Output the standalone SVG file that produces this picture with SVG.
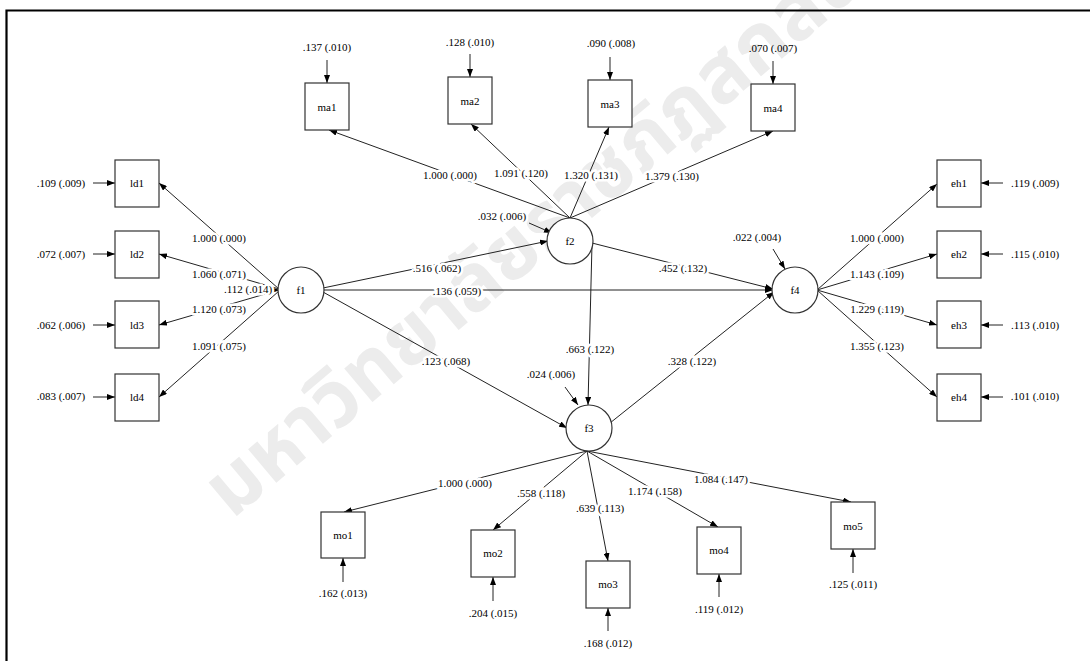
<svg xmlns="http://www.w3.org/2000/svg" width="1090" height="661" viewBox="0 0 1090 661">
<style>
  text { font-family: "Liberation Serif", "Times New Roman", Times, serif; font-size: 11px; fill: #000; }
  .lbl { text-anchor: middle; }
  .hal { text-anchor: middle; stroke: #fff; stroke-width: 5px; paint-order: stroke; stroke-linejoin: round; }
  .box { fill: #fff; stroke: #333; stroke-width: 1.2; }
  .lat { fill: #fff; stroke: #333; stroke-width: 1.2; }
  .ln { stroke: #222; stroke-width: 1; fill: none; marker-end: url(#ah); }
  .wm { font-family: "Noto Sans Thai", "Noto Sans", "DejaVu Sans", sans-serif; font-size: 80px; font-weight: bold; fill: #ececec; }
</style>
<defs>
  <marker id="ah" markerUnits="userSpaceOnUse" markerWidth="8" markerHeight="6" refX="8" refY="3" orient="auto">
    <path d="M0,0 L8,3 L0,6 z" fill="#000"/>
  </marker>
</defs>
<rect x="0" y="0" width="1090" height="661" fill="#fff"/>
<g id="watermark">
  <text class="wm" x="232" y="520" transform="rotate(-40 232 520)">มหาวิทยาลัยราชภัฏสกลนคร</text>
</g>
<g id="frame" stroke="#000" stroke-width="2.2" fill="none">
  <path d="M1090,10.5 H6.5 V661"/>
</g>
<g id="connectors">
  <line class="ln" x1="279" y1="289" x2="159" y2="183"/>
  <line class="ln" x1="279" y1="289" x2="159" y2="254"/>
  <line class="ln" x1="279" y1="290" x2="159" y2="325"/>
  <line class="ln" x1="279" y1="291" x2="159" y2="397"/>
  <line class="ln" x1="570" y1="218" x2="329" y2="130"/>
  <line class="ln" x1="570" y1="218" x2="471" y2="124"/>
  <line class="ln" x1="570" y1="218" x2="609" y2="127"/>
  <line class="ln" x1="570" y1="218" x2="773" y2="131"/>
  <line class="ln" x1="817" y1="290" x2="937" y2="184"/>
  <line class="ln" x1="817" y1="290" x2="937" y2="254"/>
  <line class="ln" x1="817" y1="290" x2="937" y2="325"/>
  <line class="ln" x1="817" y1="290" x2="937" y2="397"/>
  <line class="ln" x1="587" y1="451" x2="344" y2="512"/>
  <line class="ln" x1="587" y1="451" x2="493" y2="530"/>
  <line class="ln" x1="587" y1="451" x2="608" y2="561"/>
  <line class="ln" x1="587" y1="451" x2="718" y2="527"/>
  <line class="ln" x1="587" y1="451" x2="851" y2="502"/>
  <line class="ln" x1="323" y1="288" x2="548" y2="241"/>
  <line class="ln" x1="323" y1="290" x2="773" y2="290"/>
  <line class="ln" x1="323" y1="292" x2="567" y2="428"/>
  <line class="ln" x1="592" y1="243" x2="773" y2="289"/>
  <line class="ln" x1="592" y1="244" x2="588" y2="405"/>
  <line class="ln" x1="610" y1="423" x2="774" y2="292"/>
  <line class="ln" x1="272" y1="290" x2="279" y2="290"/>
  <line class="ln" x1="529" y1="223" x2="552" y2="233"/>
  <line class="ln" x1="565" y1="387" x2="578" y2="405"/>
  <line class="ln" x1="773" y1="249" x2="785" y2="269"/>
  <line class="ln" x1="327" y1="60" x2="327" y2="83"/>
  <line class="ln" x1="470" y1="54" x2="470" y2="77"/>
  <line class="ln" x1="610" y1="57" x2="610" y2="80"/>
  <line class="ln" x1="773" y1="61" x2="773" y2="84"/>
  <line class="ln" x1="93" y1="183" x2="115" y2="183"/>
  <line class="ln" x1="93" y1="254" x2="115" y2="254"/>
  <line class="ln" x1="93" y1="325" x2="115" y2="325"/>
  <line class="ln" x1="93" y1="397" x2="115" y2="397"/>
  <line class="ln" x1="1003" y1="183" x2="981" y2="183"/>
  <line class="ln" x1="1003" y1="254" x2="981" y2="254"/>
  <line class="ln" x1="1003" y1="325" x2="981" y2="325"/>
  <line class="ln" x1="1003" y1="397" x2="981" y2="397"/>
  <line class="ln" x1="343" y1="582" x2="343" y2="558"/>
  <line class="ln" x1="493" y1="601" x2="493" y2="577"/>
  <line class="ln" x1="608" y1="631" x2="608" y2="608"/>
  <line class="ln" x1="719" y1="597" x2="719" y2="574"/>
  <line class="ln" x1="853" y1="573" x2="853" y2="549"/>
</g>
<g id="path-labels">
  <text class="hal" x="219" y="242">1.000 (.000)</text>
  <text class="hal" x="219" y="278">1.060 (.071)</text>
  <text class="hal" x="219" y="313">1.120 (.073)</text>
  <text class="hal" x="219" y="350">1.091 (.075)</text>
  <text class="hal" x="248" y="293">.112 (.014)</text>
  <text class="hal" x="450" y="179">1.000 (.000)</text>
  <text class="hal" x="521" y="177">1.091 (.120)</text>
  <text class="hal" x="591" y="179">1.320 (.131)</text>
  <text class="hal" x="672" y="180">1.379 (.130)</text>
  <text class="hal" x="502" y="220">.032 (.006)</text>
  <text class="hal" x="437" y="272">.516 (.062)</text>
  <text class="hal" x="457" y="295">.136 (.059)</text>
  <text class="hal" x="446" y="365">.123 (.068)</text>
  <text class="hal" x="683" y="272">.452 (.132)</text>
  <text class="hal" x="590" y="353">.663 (.122)</text>
  <text class="hal" x="692" y="365">.328 (.122)</text>
  <text class="hal" x="551" y="378">.024 (.006)</text>
  <text class="hal" x="757" y="241">.022 (.004)</text>
  <text class="hal" x="877" y="242">1.000 (.000)</text>
  <text class="hal" x="877" y="278">1.143 (.109)</text>
  <text class="hal" x="877" y="313">1.229 (.119)</text>
  <text class="hal" x="877" y="350">1.355 (.123)</text>
  <text class="hal" x="465" y="487">1.000 (.000)</text>
  <text class="hal" x="541" y="497">.558 (.118)</text>
  <text class="hal" x="600" y="512">.639 (.113)</text>
  <text class="hal" x="655" y="495">1.174 (.158)</text>
  <text class="hal" x="721" y="483">1.084 (.147)</text>
</g>
<g id="error-labels">
  <text class="lbl" x="327" y="51">.137 (.010)</text>
  <text class="lbl" x="470" y="46">.128 (.010)</text>
  <text class="lbl" x="611" y="47">.090 (.008)</text>
  <text class="lbl" x="773" y="52">.070 (.007)</text>
  <text class="lbl" x="61" y="187">.109 (.009)</text>
  <text class="lbl" x="61" y="258">.072 (.007)</text>
  <text class="lbl" x="61" y="329">.062 (.006)</text>
  <text class="lbl" x="61" y="400">.083 (.007)</text>
  <text class="lbl" x="1035" y="187">.119 (.009)</text>
  <text class="lbl" x="1035" y="258">.115 (.010)</text>
  <text class="lbl" x="1035" y="329">.113 (.010)</text>
  <text class="lbl" x="1035" y="400">.101 (.010)</text>
  <text class="lbl" x="343" y="597">.162 (.013)</text>
  <text class="lbl" x="493" y="617">.204 (.015)</text>
  <text class="lbl" x="608" y="647">.168 (.012)</text>
  <text class="lbl" x="719" y="613">.119 (.012)</text>
  <text class="lbl" x="853" y="588">.125 (.011)</text>
</g>
<g id="ma1"><rect class="box" x="305" y="83" width="44" height="47"/><text class="lbl" x="327" y="111">ma1</text></g>
<g id="ma2"><rect class="box" x="448" y="77" width="44" height="47"/><text class="lbl" x="470" y="105">ma2</text></g>
<g id="ma3"><rect class="box" x="588" y="80" width="44" height="47"/><text class="lbl" x="610" y="108">ma3</text></g>
<g id="ma4"><rect class="box" x="751" y="84" width="44" height="47"/><text class="lbl" x="773" y="112">ma4</text></g>
<g id="ld1"><rect class="box" x="115" y="160" width="44" height="47"/><text class="lbl" x="137" y="187">ld1</text></g>
<g id="ld2"><rect class="box" x="115" y="231" width="44" height="47"/><text class="lbl" x="137" y="258">ld2</text></g>
<g id="ld3"><rect class="box" x="115" y="301" width="44" height="47"/><text class="lbl" x="137" y="329">ld3</text></g>
<g id="ld4"><rect class="box" x="115" y="374" width="44" height="47"/><text class="lbl" x="137" y="401">ld4</text></g>
<g id="eh1"><rect class="box" x="937" y="160" width="44" height="47"/><text class="lbl" x="959" y="187">eh1</text></g>
<g id="eh2"><rect class="box" x="937" y="231" width="44" height="47"/><text class="lbl" x="959" y="258">eh2</text></g>
<g id="eh3"><rect class="box" x="937" y="301" width="44" height="47"/><text class="lbl" x="959" y="329">eh3</text></g>
<g id="eh4"><rect class="box" x="937" y="374" width="44" height="47"/><text class="lbl" x="959" y="401">eh4</text></g>
<g id="mo1"><rect class="box" x="321" y="512" width="44" height="46"/><text class="lbl" x="343" y="539">mo1</text></g>
<g id="mo2"><rect class="box" x="471" y="530" width="44" height="47"/><text class="lbl" x="493" y="557">mo2</text></g>
<g id="mo3"><rect class="box" x="586" y="561" width="44" height="47"/><text class="lbl" x="608" y="588">mo3</text></g>
<g id="mo4"><rect class="box" x="697" y="527" width="44" height="47"/><text class="lbl" x="719" y="554">mo4</text></g>
<g id="mo5"><rect class="box" x="831" y="502" width="44" height="47"/><text class="lbl" x="853" y="530">mo5</text></g>
<g id="f1"><circle class="lat" cx="301" cy="290" r="23"/><text class="lbl" x="301" y="294">f1</text></g>
<g id="f2"><circle class="lat" cx="570" cy="241" r="23"/><text class="lbl" x="570" y="245">f2</text></g>
<g id="f3"><circle class="lat" cx="589" cy="428" r="23"/><text class="lbl" x="589" y="432">f3</text></g>
<g id="f4"><circle class="lat" cx="795" cy="290" r="23"/><text class="lbl" x="795" y="294">f4</text></g>
</svg>
